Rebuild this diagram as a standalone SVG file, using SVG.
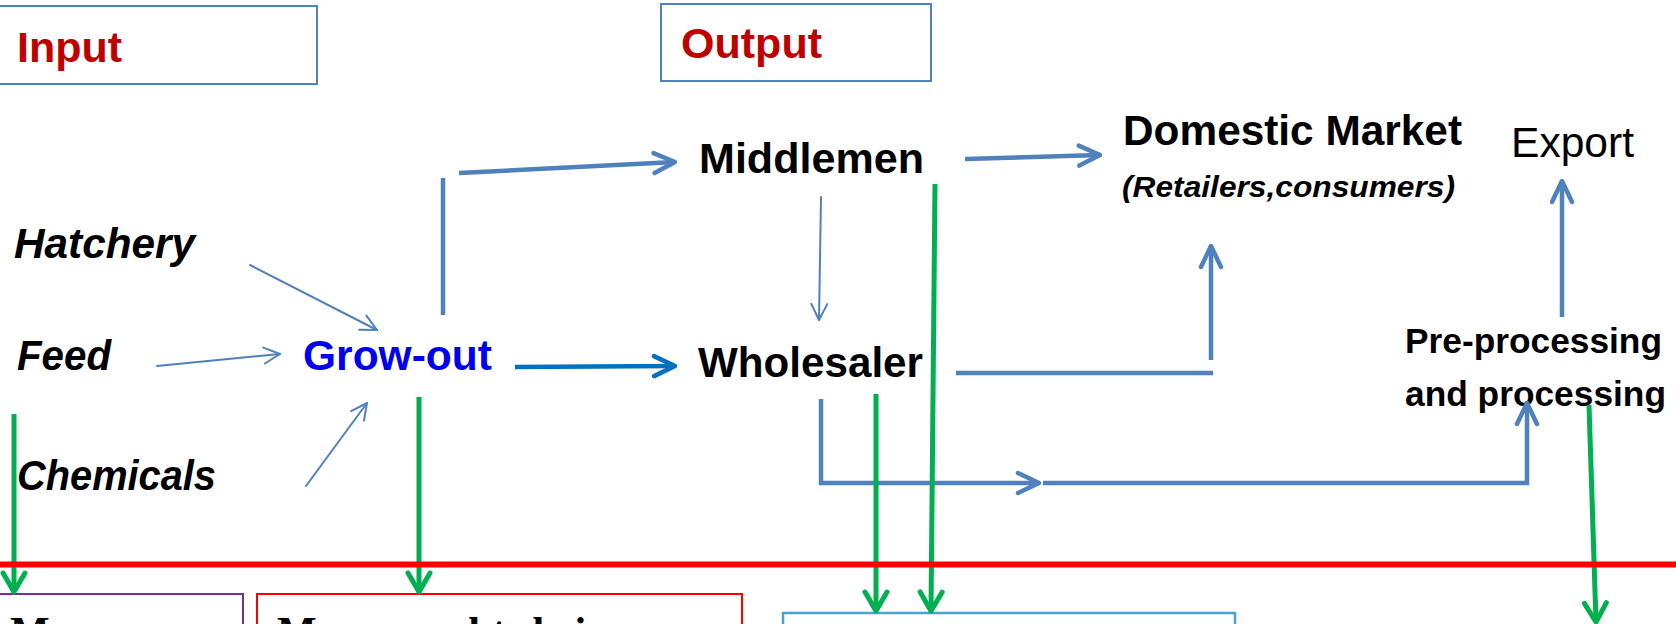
<svg xmlns="http://www.w3.org/2000/svg" width="1676" height="624" viewBox="0 0 1676 624">
<style>
.lbl{font-family:"Liberation Sans",Arial,sans-serif;font-weight:bold;font-size:42px;fill:#000}
.it{font-style:italic}
.hdr{fill:#C00000}
.box{fill:none;stroke:#4F81BD;stroke-width:2}
.thin{fill:none;stroke:#4F81BD;stroke-width:2;stroke-linecap:round}
.thick{fill:none;stroke:#4F81BD;stroke-width:4.5}
.dark{fill:none;stroke:#0070C0;stroke-width:4.5}
.grn{fill:none;stroke:#00B050;stroke-width:5}
.serif{font-family:"Liberation Serif","Times New Roman",serif;font-weight:bold;font-size:42px;fill:#000}
</style>
<defs>
<marker id="mThin" markerUnits="userSpaceOnUse" viewBox="-20 -12 24 24" refX="0" refY="0" markerWidth="24" markerHeight="24" orient="auto" overflow="visible"><path d="M-16,-8 L0,0 L-16,8" fill="none" stroke="#4F81BD" stroke-width="2" stroke-linecap="round" stroke-linejoin="round"/></marker>
<marker id="mThick" markerUnits="userSpaceOnUse" viewBox="-26 -14 30 28" refX="0" refY="0" markerWidth="30" markerHeight="28" orient="auto" overflow="visible"><path d="M-21,-10 L0,0 L-21,10" fill="none" stroke="#4F81BD" stroke-width="4.5" stroke-linecap="round" stroke-linejoin="round"/></marker>
<marker id="mDark" markerUnits="userSpaceOnUse" viewBox="-26 -14 30 28" refX="0" refY="0" markerWidth="30" markerHeight="28" orient="auto" overflow="visible"><path d="M-21,-10 L0,0 L-21,10" fill="none" stroke="#0070C0" stroke-width="4.5" stroke-linecap="round" stroke-linejoin="round"/></marker>
<marker id="mGrn" markerUnits="userSpaceOnUse" viewBox="-26 -16 30 32" refX="0" refY="0" markerWidth="30" markerHeight="32" orient="auto" overflow="visible"><path d="M-19,-11 L0,0 L-19,11" fill="none" stroke="#00B050" stroke-width="5" stroke-linecap="round" stroke-linejoin="round"/></marker>
</defs>
<rect width="1676" height="624" fill="#fff"/>

<g id="input-box"><rect class="box" x="-2" y="6" width="319" height="78"/><text class="lbl hdr" x="17" y="62" textLength="105" lengthAdjust="spacingAndGlyphs">Input</text></g>
<g id="output-box"><rect class="box" x="661" y="4" width="270" height="77"/><text class="lbl hdr" x="681" y="58" textLength="141" lengthAdjust="spacingAndGlyphs">Output</text></g>
<g id="hatchery"><text class="lbl it" x="14" y="258" textLength="181" lengthAdjust="spacingAndGlyphs">Hatchery</text></g>
<g id="feed"><text class="lbl it" x="17" y="370" textLength="94" lengthAdjust="spacingAndGlyphs">Feed</text></g>
<g id="chemicals"><text class="lbl it" x="17" y="490" textLength="199" lengthAdjust="spacingAndGlyphs">Chemicals</text></g>
<g id="growout"><text class="lbl" x="303" y="370" style="fill:#0000F0" textLength="189" lengthAdjust="spacingAndGlyphs">Grow-out</text></g>
<g id="middlemen"><text class="lbl" x="699" y="173" textLength="225" lengthAdjust="spacingAndGlyphs">Middlemen</text></g>
<g id="wholesaler"><text class="lbl" x="698" y="377" textLength="225" lengthAdjust="spacingAndGlyphs">Wholesaler</text></g>
<g id="domestic"><text class="lbl" x="1123" y="145" textLength="339" lengthAdjust="spacingAndGlyphs">Domestic Market</text><text class="lbl it" x="1122" y="197" style="font-size:30px" textLength="333" lengthAdjust="spacingAndGlyphs">(Retailers,consumers)</text></g>
<g id="export"><text class="lbl" x="1511" y="157" style="font-weight:normal" textLength="123" lengthAdjust="spacingAndGlyphs">Export</text></g>
<g id="processing"><text class="lbl" x="1405" y="353" style="font-size:35px" textLength="257" lengthAdjust="spacingAndGlyphs">Pre-processing</text><text class="lbl" x="1405" y="406" style="font-size:35px" textLength="261" lengthAdjust="spacingAndGlyphs">and processing</text></g>

<g id="box-purple"><rect x="-2" y="594" width="245" height="60" fill="none" stroke="#7030A0" stroke-width="2"/><text class="serif" x="10" y="646">Many</text></g>
<g id="box-red"><rect x="257" y="594" width="485" height="60" fill="none" stroke="#FF0000" stroke-width="2"/><text class="serif" x="277" y="646">Mass-caught shrimp</text></g>
<g id="box-teal"><rect x="783" y="613" width="452" height="40" fill="none" stroke="#4BA3C8" stroke-width="2.5"/></g>

<g id="connectors">
<line class="thin" x1="250" y1="265" x2="377" y2="330" marker-end="url(#mThin)"/>
<line class="thin" x1="157" y1="366" x2="280" y2="354" marker-end="url(#mThin)"/>
<line class="thin" x1="306" y1="486" x2="367" y2="403" marker-end="url(#mThin)"/>
<line class="thick" x1="443" y1="315" x2="443" y2="178"/>
<line class="thick" x1="459" y1="173" x2="675" y2="162" marker-end="url(#mThick)"/>
<line class="dark" x1="515" y1="367" x2="675" y2="366" marker-end="url(#mDark)"/>
<line class="thick" x1="965" y1="159" x2="1100" y2="155" marker-end="url(#mThick)"/>
<line class="thin" x1="821" y1="197" x2="819" y2="320" marker-end="url(#mThin)"/>
<line class="thick" x1="956" y1="373" x2="1213" y2="373"/>
<line class="thick" x1="1211" y1="360" x2="1211" y2="246" marker-end="url(#mThick)"/>
<polyline class="thick" points="821,399 821,483 1039,483" marker-end="url(#mThick)"/>
<polyline class="thick" points="1043,483 1527,483 1527,403" marker-end="url(#mThick)"/>
<line class="thick" x1="1562" y1="317" x2="1562" y2="181" marker-end="url(#mThick)"/>
<line class="grn" x1="14" y1="414" x2="14" y2="592" marker-end="url(#mGrn)"/>
<line class="grn" x1="419" y1="397" x2="419" y2="592" marker-end="url(#mGrn)"/>
<line class="grn" x1="876" y1="394" x2="876" y2="611" marker-end="url(#mGrn)"/>
<line class="grn" x1="935" y1="184" x2="931" y2="611" marker-end="url(#mGrn)"/>
<line class="grn" x1="1589" y1="405" x2="1596" y2="622" marker-end="url(#mGrn)"/>
<line x1="0" y1="564.5" x2="1676" y2="564.5" stroke="#FF0000" stroke-width="6"/>
</g>
</svg>
